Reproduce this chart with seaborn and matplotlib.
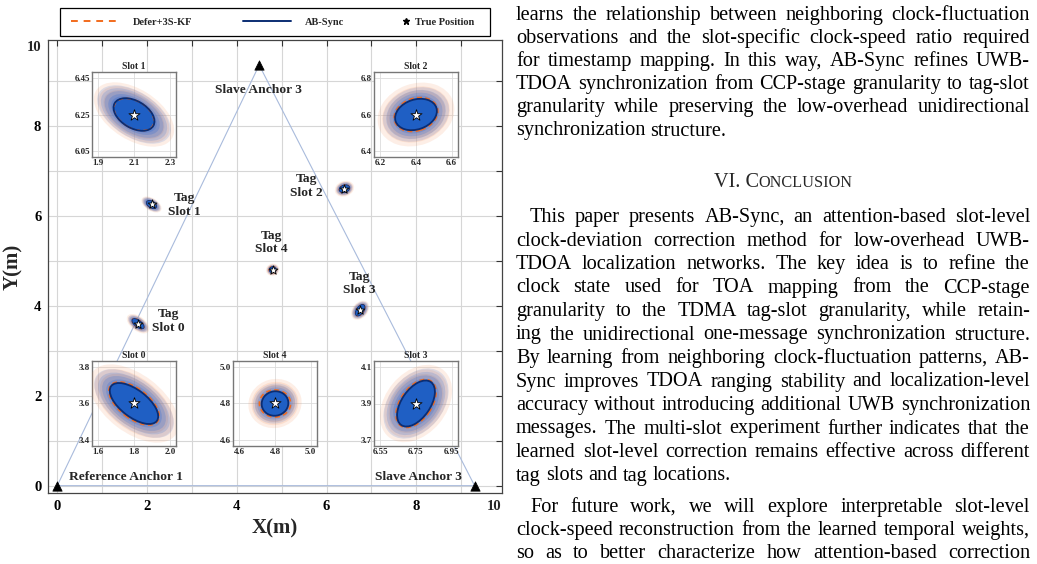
import numpy as np
import pandas as pd
import matplotlib
matplotlib.use("Agg")
import matplotlib.pyplot as plt
import seaborn as sns
from matplotlib.patches import Ellipse, Rectangle
from matplotlib.lines import Line2D

sns.set_theme(style="white")
plt.rcParams["font.family"] = ["Liberation Serif", "DejaVu Serif"]

# ---------------- data ----------------
slot_names = ["Slot 0", "Slot 1", "Slot 2", "Slot 3", "Slot 4"]
true_x = [1.8, 2.1, 6.4, 6.75, 4.8]
true_y = [3.6, 6.25, 6.6, 3.9, 4.8]

anchor_x = [0.0, 9.3, 4.5]
anchor_y = [0.0, 0.0, 9.35]
anchor_labels = ["Reference Anchor 1", "Slave Anchor 3", "Slave Anchor 3"]

# AB-Sync error ellipse (full width/height in m, angle deg)
ab_w = [0.32, 0.25, 0.24, 0.29, 0.15]
ab_h = [0.15, 0.15, 0.165, 0.16, 0.135]
ab_ang = [-37, -30, 18, 55, 10]
# Defer+3S-KF error ellipse
kf_w = [0.33, 0.245, 0.25, 0.30, 0.175]
kf_h = [0.165, 0.15, 0.18, 0.175, 0.15]
kf_ang = [-37, -30, 18, 55, 0]
# extent of the estimate clouds
cloud_ab_w = [0.52, 0.46, 0.38, 0.44, 0.25]
cloud_ab_h = [0.27, 0.25, 0.29, 0.30, 0.22]
cloud_kf_w = [0.58, 0.50, 0.44, 0.48, 0.30]
cloud_kf_h = [0.32, 0.28, 0.34, 0.34, 0.27]
cloud_ang = [-37, -32, 20, 50, 15]

inset_xticks = [[1.6, 1.8, 2.0], [1.9, 2.1, 2.3], [6.2, 6.4, 6.6], [6.55, 6.75, 6.95], [4.6, 4.8, 5.0]]
inset_xlabels = [["1.6", "1.8", "2.0"], ["1.9", "2.1", "2.3"], ["6.2", "6.4", "6.6"],
                 ["6.55", "6.75", "6.95"], ["4.6", "4.8", "5.0"]]
inset_yticks = [[3.4, 3.6, 3.8], [6.05, 6.25, 6.45], [6.4, 6.6, 6.8], [3.7, 3.9, 4.1], [4.6, 4.8, 5.0]]
inset_ylabels = [["3.4", "3.6", "3.8"], ["6.05", "6.25", "6.45"], ["6.4", "6.6", "6.8"],
                 ["3.7", "3.9", "4.1"], ["4.6", "4.8", "5.0"]]

tag_label_x = [2.47, 2.84, 5.56, 6.74, 4.78]
tag_label_y = [3.66, 6.24, 6.66, 4.50, 5.41]

legend_labels = ["Defer+3S-KF", "AB-Sync", "True Position"]

para1 = [
    "learns the relationship between neighboring clock-fluctuation",
    "observations and the slot-specific clock-speed ratio required",
    "for timestamp mapping. In this way, AB-Sync refines UWB-",
    "TDOA synchronization from CCP-stage granularity to tag-slot",
    "granularity while preserving the low-overhead unidirectional",
    "synchronization structure.",
]
para2 = [
    "This paper presents AB-Sync, an attention-based slot-level",
    "clock-deviation correction method for low-overhead UWB-",
    "TDOA localization networks. The key idea is to refine the",
    "clock state used for TOA mapping from the CCP-stage",
    "granularity to the TDMA tag-slot granularity, while retain-",
    "ing the unidirectional one-message synchronization structure.",
    "By learning from neighboring clock-fluctuation patterns, AB-",
    "Sync improves TDOA ranging stability and localization-level",
    "accuracy without introducing additional UWB synchronization",
    "messages. The multi-slot experiment further indicates that the",
    "learned slot-level correction remains effective across different",
    "tag slots and tag locations.",
]
para3 = [
    "For future work, we will explore interpretable slot-level",
    "clock-speed reconstruction from the learned temporal weights,",
    "so as to better characterize how attention-based correction",
]

# ---------------- styling ----------------
W, H = 1037, 564
C_KF = "#f26b1d"
C_KF_CLOUD = "#f28a4e"
C_AB_CLOUD = "#4a78d0"
C_AB_FILL = "#1f5fc4"
C_AB_EDGE = "#0b2d73"
C_LINK = "#a9bbdc"
BOLD = dict(fontweight="bold")

fig = plt.figure(figsize=(W / 100, H / 100), dpi=100)
fig.patch.set_facecolor("white")


def px_axes(x0, y0, x1, y1):
    return fig.add_axes([x0 / W, 1 - y1 / H, (x1 - x0) / W, (y1 - y0) / H])


def draw_cluster(ax, i, lw_ab, lw_kf, star_s):
    cx, cy = true_x[i], true_y[i]
    for f, a in ((1.0, 0.14), (0.88, 0.16), (0.76, 0.2)):
        ax.add_patch(Ellipse((cx, cy), cloud_kf_w[i] * f, cloud_kf_h[i] * f, angle=cloud_ang[i],
                             facecolor=C_KF_CLOUD, edgecolor="none", alpha=a, zorder=3))
    for f, a in ((1.0, 0.18), (0.9, 0.22), (0.8, 0.28), (0.7, 0.35), (0.62, 0.45)):
        ax.add_patch(Ellipse((cx, cy), cloud_ab_w[i] * f, cloud_ab_h[i] * f, angle=cloud_ang[i],
                             facecolor=C_AB_CLOUD, edgecolor="none", alpha=a, zorder=3))
    ax.add_patch(Ellipse((cx, cy), ab_w[i], ab_h[i], angle=ab_ang[i],
                         facecolor=C_AB_FILL, edgecolor="none", zorder=4))
    ax.add_patch(Ellipse((cx, cy), kf_w[i], kf_h[i], angle=kf_ang[i],
                         facecolor="none", edgecolor=C_KF, lw=lw_kf, ls=(0, (3, 2)), zorder=5))
    ax.add_patch(Ellipse((cx, cy), ab_w[i], ab_h[i], angle=ab_ang[i],
                         facecolor="none", edgecolor=C_AB_EDGE, lw=lw_ab, zorder=6))
    sns.scatterplot(x=[cx], y=[cy], marker="*", s=star_s, color="white",
                    edgecolor="black", linewidth=0.6, ax=ax, zorder=7, legend=False)


# ---------------- main axes ----------------
ax = px_axes(48.3, 40.3, 501.5, 493.3)
ax.set_xlim(-0.2, 9.9)
ax.set_ylim(-0.17, 9.9)
ax.set_xticks(range(0, 10))
ax.set_xticklabels([str(v) if v % 2 == 0 else "" for v in range(0, 10)])
ax.set_yticks(range(0, 10))
ax.set_yticklabels([str(v) if v % 2 == 0 else "" for v in range(0, 10)])
ax.grid(True, color="#d6d6d6", lw=0.8)
ax.set_axisbelow(True)
ax.tick_params(direction="in", length=4, width=0.8, top=True, right=True,
               labelsize=10.5, pad=5, colors="#333333", labelcolor="black")
for lab in ax.get_xticklabels() + ax.get_yticklabels():
    lab.set_fontweight("bold")
for s in ax.spines.values():
    s.set_color("#444444")
    s.set_linewidth(0.9)
ax.annotate("10", xy=(9.73, 0), xycoords=("data", "axes fraction"), xytext=(0, -5),
            textcoords="offset points", ha="center", va="top", fontsize=10.5, **BOLD)
ax.annotate("10", xy=(0, 9.73), xycoords=("axes fraction", "data"), xytext=(-5, 0),
            textcoords="offset points", ha="right", va="center", fontsize=10.5, **BOLD)
ax.set_xlabel("X(m)", fontsize=15, labelpad=4, **BOLD)
ax.set_ylabel("Y(m)", fontsize=15, labelpad=8, **BOLD)

# anchor links
order = [0, 2, 1, 0]
ax.plot([anchor_x[k] for k in order], [anchor_y[k] for k in order], color=C_LINK, lw=0.8, zorder=2)
sns.scatterplot(x=anchor_x, y=anchor_y, marker="^", s=45, color="black", edgecolor="black",
                ax=ax, zorder=8, legend=False, clip_on=False)
ax.text(1.52, 0.19, anchor_labels[0], ha="center", va="center", fontsize=9.7, **BOLD)
ax.text(8.04, 0.19, anchor_labels[1], ha="center", va="center", fontsize=9.7, **BOLD)
ax.text(4.49, 8.79, anchor_labels[2], ha="center", va="center", fontsize=9.7, **BOLD)

for i in range(5):
    draw_cluster(ax, i, lw_ab=0.6, lw_kf=0.6, star_s=45)
    ax.text(tag_label_x[i], tag_label_y[i], "Tag\n" + slot_names[i], ha="center", va="center",
            fontsize=9.7, linespacing=1.15, **BOLD)

# ---------------- insets ----------------
inset_boxes = {0: (92, 361), 1: (92, 72), 2: (374, 72), 3: (374, 361), 4: (233, 361)}
for i in range(5):
    x0, y0 = inset_boxes[i]
    ia = px_axes(x0, y0, x0 + 84, y0 + 85)
    ia.set_facecolor("white")
    ia.set_xlim(true_x[i] - 0.235, true_x[i] + 0.235)
    ia.set_ylim(true_y[i] - 0.235, true_y[i] + 0.235)
    ia.set_xticks(inset_xticks[i])
    ia.set_xticklabels(inset_xlabels[i])
    ia.set_yticks(inset_yticks[i])
    ia.set_yticklabels(inset_ylabels[i])
    ia.grid(True, color="#dcdcdc", lw=0.6)
    ia.set_axisbelow(True)
    ia.tick_params(direction="in", length=2, width=0.6, labelsize=6.5, pad=1.5)
    for lab in ia.get_xticklabels() + ia.get_yticklabels():
        lab.set_fontweight("bold")
    for s in ia.spines.values():
        s.set_color("#777777")
        s.set_linewidth(1.0)
    ia.set_title(slot_names[i], fontsize=7, pad=2, **BOLD)
    draw_cluster(ia, i, lw_ab=1.3, lw_kf=1.2, star_s=70)

# ---------------- legend (three entries inside one box) ----------------
fig.add_artist(Rectangle((60 / W, 1 - 36 / H), 430 / W, 28 / H, transform=fig.transFigure,
                         facecolor="white", edgecolor="black", lw=0.9))
handles = [
    Line2D([], [], color=C_KF, lw=1.4, ls=(0, (3.5, 3))),
    Line2D([], [], color=C_AB_EDGE, lw=1.4),
    Line2D([], [], color="black", marker="*", ls="none", markersize=5),
]
leg_x = [71, 243, 401]
leg_hl = [4.6, 4.6, 1.0]
leg_tp = [1.3, 1.3, 0.3]
for h, lab, lx, hl, tp in zip(handles, legend_labels, leg_x, leg_hl, leg_tp):
    lg = fig.legend([h], [lab], loc="center left", bbox_to_anchor=(lx / W, 1 - 22 / H),
                    prop=dict(size=7.5, weight="bold"), frameon=False, handlelength=hl,
                    handletextpad=tp, borderpad=0, borderaxespad=0)

# ---------------- right-hand text column ----------------
renderer = fig.canvas.get_renderer()
FS = 14.6
XL, XR, IND = 516, 1030, 14


def measure(s, size=FS):
    t = fig.text(0, 0, s, fontsize=size)
    w = t.get_window_extent(renderer).width
    t.remove()
    return w


space_w = measure("a a") - measure("aa")


def draw_par(lines, baselines, indent, justify_last=False):
    for k, (line, yb) in enumerate(zip(lines, baselines)):
        x0 = XL + (IND if (k == 0 and indent) else 0)
        words = line.split(" ")
        widths = [measure(w) for w in words]
        just = (k < len(lines) - 1) or justify_last
        gap = (XR - x0 - sum(widths)) / (len(words) - 1) if (just and len(words) > 1) else space_w
        x = x0
        for w, wd in zip(words, widths):
            fig.text(x / W, 1 - yb / H, w, fontsize=FS, va="baseline", ha="left", color="black")
            x += wd + gap


draw_par(para1, [20 + 23.1 * k for k in range(len(para1))], indent=False)
draw_par(para2, [222 + 23.5 * k for k in range(len(para2))], indent=True)
draw_par(para3, [512 + 22.8 * k for k in range(len(para3))], indent=True, justify_last=True)

# heading in small caps
h_parts = [("VI. C", FS), ("ONCLUSION", FS * 0.8)]
h_w = sum(measure(s, sz) for s, sz in h_parts)
hx = 783 - h_w / 2
for s, sz in h_parts:
    fig.text(hx / W, 1 - 187 / H, s, fontsize=sz, va="baseline", ha="left")
    hx += measure(s, sz)

fig.savefig("out.png", dpi=100, facecolor="white")
